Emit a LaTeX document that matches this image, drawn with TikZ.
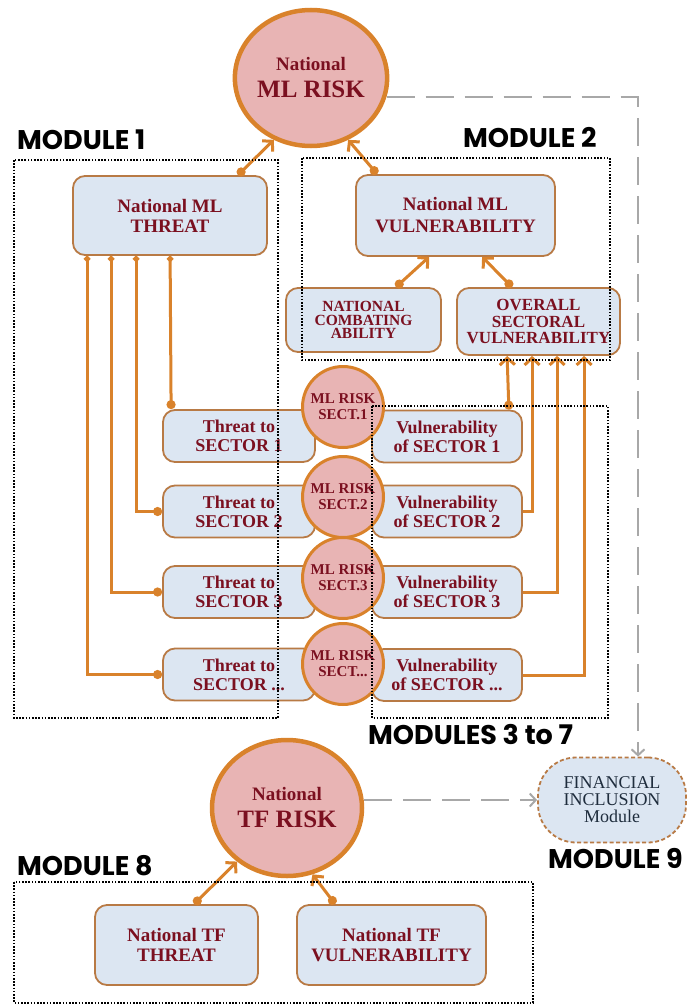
\documentclass[tikz,border=0pt]{standalone}
\usepackage{fontspec}
\setmainfont{Liberation Serif}
\newfontfamily\modfont{Poppins}
\usetikzlibrary{positioning,shapes.geometric,arrows.meta}
\definecolor{riskfill}{HTML}{E8B4B4}
\definecolor{riskline}{HTML}{D9822B}
\definecolor{boxfill}{HTML}{DCE6F2}
\definecolor{boxline}{HTML}{B87A45}
\definecolor{darkred}{HTML}{7B1020}
\definecolor{finText}{HTML}{1F2D3D}
\definecolor{dashgray}{HTML}{A8A8A8}
\tikzset{
box/.style={draw=boxline,line width=1.8pt,fill=boxfill,rounded corners=12pt,text=darkred,align=center,inner sep=0pt,font=\bfseries\fontsize{19}{20}\selectfont},
sbox/.style={box,minimum width=152pt,minimum height=52pt,font=\bfseries\fontsize{18}{19}\selectfont},
bigrisk/.style={ellipse,draw=riskline,line width=4.5pt,fill=riskfill,text=darkred,align=center,inner sep=0pt,font=\bfseries\fontsize{25}{27}\selectfont},
sectrisk/.style={circle,draw=riskline,line width=3pt,fill=riskfill,text=darkred,align=center,inner sep=0pt,minimum size=81pt,font=\bfseries\fontsize{15}{16}\selectfont},
link/.style={draw=riskline,line width=3pt},
feed/.style={link,{Circle[length=9pt]}-{Straight Barb[length=7pt,width=15pt]}},
branch/.style={link,{Circle[length=6pt]}-{Circle[length=9pt]}},
up/.style={link,-{Straight Barb[length=7pt,width=15pt]}},
dashlink/.style={draw=dashgray,line width=2pt,dash pattern=on 28pt off 11pt,-{Straight Barb[length=6pt,width=13pt]}},
modbox/.style={draw=black,line width=1.8pt,dash pattern=on 1.6pt off 1.6pt},
modlabel/.style={anchor=west,inner sep=0pt,font=\modfont\bfseries\fontsize{27}{28}\selectfont}
}
\begin{document}
\begin{tikzpicture}[x=1pt,y=-1pt]
\useasboundingbox (0,0) rectangle (686,1006);
\node[bigrisk,minimum width=152pt,minimum height=136pt] (mlrisk) at (311,78)
  {{\fontsize{19}{20}\selectfont National}\\ML RISK};
\node[box,minimum width=194pt,minimum height=79pt] (mlthreat) at (170,215.5) {National ML\\THREAT};
\node[box,minimum width=199pt,minimum height=81pt,font=\bfseries\fontsize{19}{22}\selectfont] (mlvuln) at (455.5,215.5) {National ML\\VULNERABILITY};
\node[box,minimum width=155pt,minimum height=64pt,font=\bfseries\fontsize{15.5}{13.5}\selectfont] (comb) at (363.5,320) {NATIONAL\\COMBATING\\ABILITY};
\node[box,minimum width=163pt,minimum height=67pt,font=\bfseries\fontsize{17}{16.5}\selectfont] (overall) at (538.5,321.5) {OVERALL\\SECTORAL\\VULNERABILITY};
\node[sbox] (t1) at (239,436) {Threat to\\SECTOR 1};
\node[sbox] (t2) at (239,511.5) {Threat to\\SECTOR 2};
\node[sbox] (t3) at (239,592) {Threat to\\SECTOR 3};
\node[sbox] (t4) at (239,674.5) {Threat to\\SECTOR ...};
\node[sbox,minimum width=150pt] (v1) at (447,436.5) {Vulnerability\\of SECTOR 1};
\node[sbox,minimum width=150pt] (v2) at (447,511.5) {Vulnerability\\of SECTOR 2};
\node[sbox,minimum width=150pt] (v3) at (447,592) {Vulnerability\\of SECTOR 3};
\node[sbox,minimum width=150pt] (v4) at (447,675) {Vulnerability\\of SECTOR ...};
\node[sectrisk] (s1) at (343,407) {ML RISK\\SECT.1};
\node[sectrisk] (s2) at (343,497) {ML RISK\\SECT.2};
\node[sectrisk] (s3) at (343,578) {ML RISK\\SECT.3};
\node[sectrisk] (s4) at (343,664) {ML RISK\\SECT...};
\node[bigrisk,minimum width=150pt,minimum height=136pt] (tfrisk) at (287,808)
  {{\fontsize{19}{20}\selectfont National}\\TF RISK};
\node[draw=boxline,line width=1.8pt,dash pattern=on 4pt off 2.5pt,fill=boxfill,rounded corners=38pt,
  minimum width=148pt,minimum height=85pt,inner sep=0pt,align=center,text=finText,
  font=\fontsize{18}{17}\selectfont] (fin) at (612,800) {FINANCIAL\\INCLUSION\\Module};
\node[box,minimum width=163pt,minimum height=80pt] (tfthreat) at (176.5,945) {National TF\\THREAT};
\node[box,minimum width=189pt,minimum height=80pt] (tfvuln) at (391.5,945) {National TF\\VULNERABILITY};
% links
\draw[feed] ([xshift=-30pt]mlthreat.north east) -- (mlrisk.239);
\draw[feed] ([xshift=22pt]mlvuln.north west) -- (mlrisk.301);
\draw[feed] ([xshift=-46pt]comb.north east) -- ([xshift=74pt]mlvuln.south west);
\draw[feed] ([xshift=56pt]overall.north west) -- ([xshift=127pt]mlvuln.south west);
\draw[branch] ([xshift=98pt]mlthreat.south west) -- ([xshift=9pt]t1.north west);
\draw[branch] ([xshift=64pt]mlthreat.south west) |- (t2.west);
\draw[branch] ([xshift=39pt]mlthreat.south west) |- (t3.west);
\draw[branch] ([xshift=15pt]mlthreat.south west) |- (t4.west);
\draw[feed] ([xshift=-14pt]v1.north east) -- ([xshift=51pt]overall.south west);
\draw[up] (v2.east) -| ([xshift=76pt]overall.south west);
\draw[up] (v3.east) -| ([xshift=101pt]overall.south west);
\draw[up] (v4.east) -| ([xshift=128pt]overall.south west);
\draw[feed] ([xshift=100pt]tfthreat.north west) -- (tfrisk.227);
\draw[feed] ([xshift=39pt]tfvuln.north west) -- (tfrisk.291);
\draw[dashlink] (mlrisk.-14) -| ([xshift=26pt]fin.north);
\draw[dashlink] (tfrisk.east |- fin.west) -- (fin.west);
% modules
\draw[modbox] (14,160) rectangle (278,718);
\draw[modbox] (302,158) rectangle (610,360);
\draw[modbox] (372,406) rectangle (608,718);
\draw[modbox] (14,882) rectangle (533,1003);
\node[modlabel] (m1) at (17,140) {MODULE 1};
\node[modlabel] (m2) at (463,138) {MODULE 2};
\node[modlabel] (m37) at (368,735) {MODULES 3 to 7};
\node[modlabel] (m8) at (17,866) {MODULE 8};
\node[modlabel] (m9) at (548,858) {MODULE 9};
\end{tikzpicture}
\end{document}
